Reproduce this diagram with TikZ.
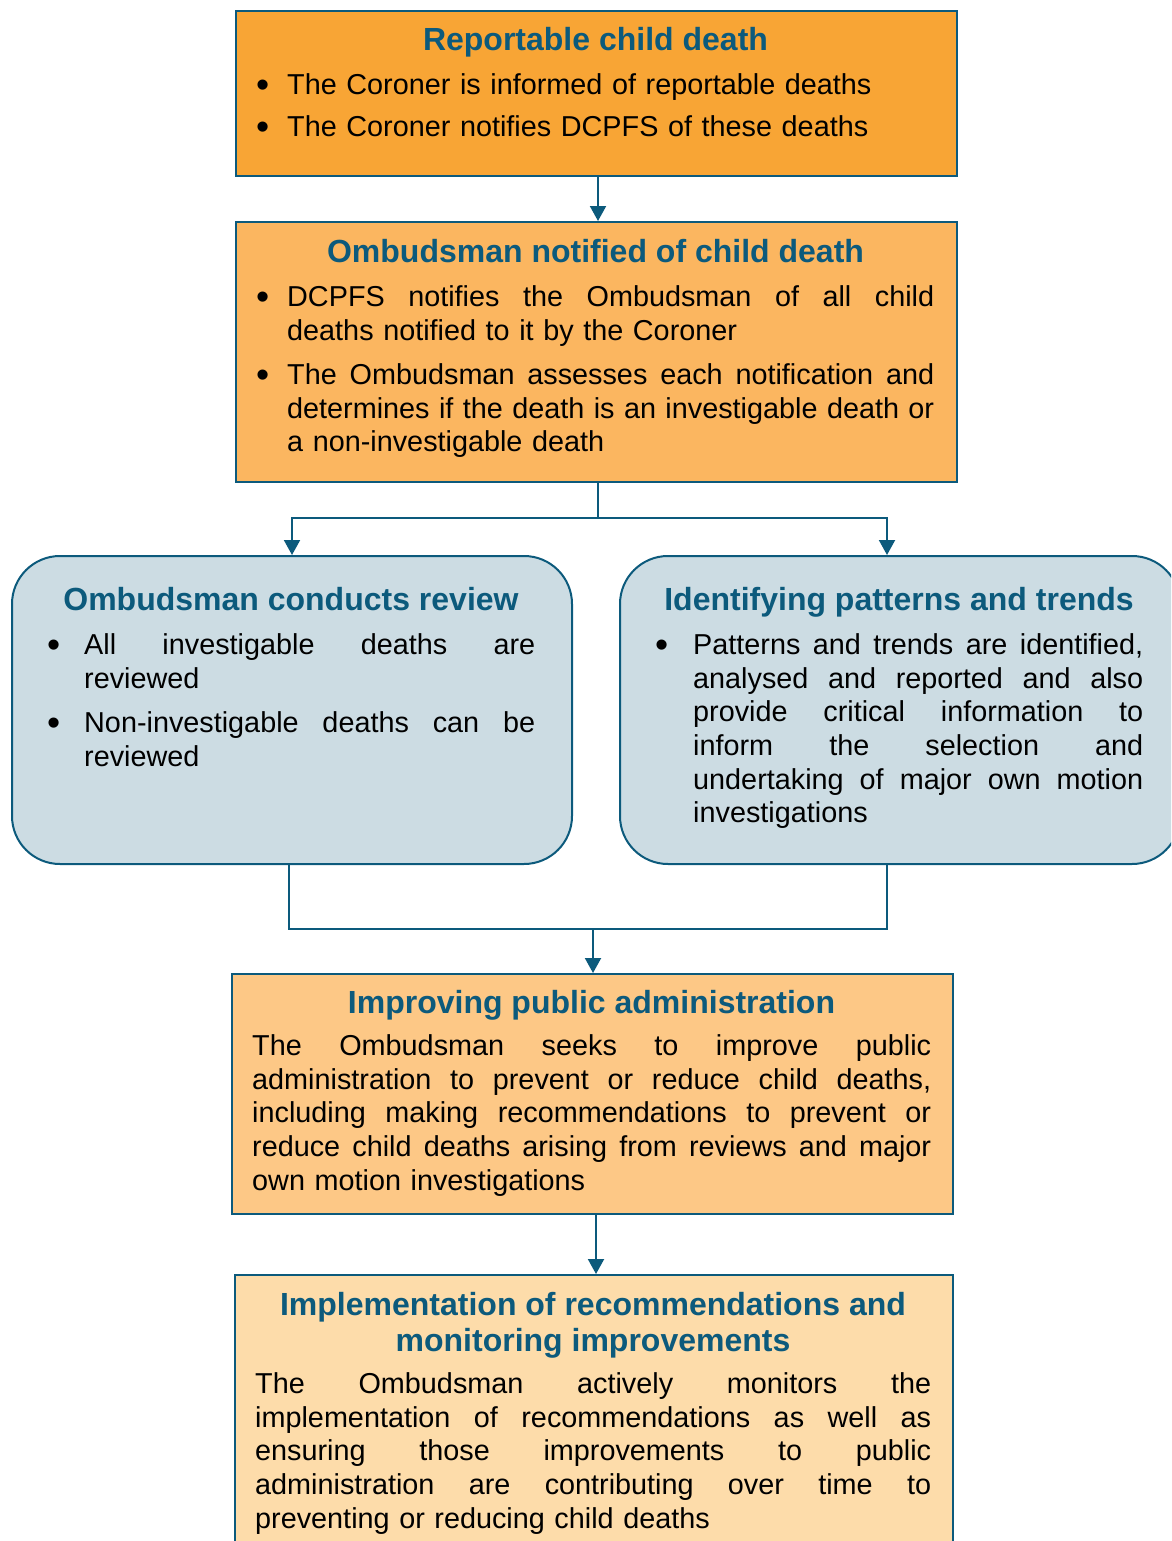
\documentclass[tikz,border=0pt]{standalone}
\usepackage{fontspec}
\usepackage{graphicx}
\setmainfont{Liberation Sans}
\usetikzlibrary{arrows.meta,calc}
\definecolor{dblue}{HTML}{0C5A7C}
\definecolor{orA}{HTML}{F8A535}
\definecolor{orB}{HTML}{FBB660}
\definecolor{ltblue}{HTML}{CCDCE3}
\definecolor{orC}{HTML}{FDC886}
\definecolor{orD}{HTML}{FDDCAA}
\newcommand{\bodyfont}{\fontsize{28.8}{33.6}\selectfont}
\newcommand{\titlefont}{\fontsize{32}{36}\selectfont\bfseries\color{dblue}}
\newcommand{\bul}[1]{\makebox[#1][l]{\hspace*{-1pt}\raisebox{-0.1em}{\scalebox{1.3}{\textbullet}}}}
\newcommand{\jline}[2]{\hbox to #1{\spaceskip=\fontdimen2\font plus 1fil minus 0.3\fontdimen2\font\relax #2}}
\hbadness=100000
\hfuzz=20pt
\tikzset{
  x=1pt, y=-1pt,
  boxrect/.style={draw=dblue, line width=2pt, anchor=north west, inner sep=0pt},
  boxround/.style={boxrect, rounded corners=48pt, fill=ltblue},
  titletext/.style={anchor=north, inner sep=0pt, font=\titlefont, align=center},
  bodytext/.style={anchor=north west, inner sep=0pt, font=\bodyfont},
  conn/.style={draw=dblue, line width=2pt},
  arr/.style={conn, -{Triangle[width=16pt,length=15pt]}}
}
\begin{document}
\begin{tikzpicture}
\useasboundingbox (0,0) rectangle (1171,1541);
\begin{scope}
\clip (0,0) rectangle (1171,1541);
% boxes
\node[boxrect, fill=orA, minimum width=721pt, minimum height=165pt] (b1) at (235,10) {};
\node[boxrect, fill=orB, minimum width=721pt, minimum height=260pt] (b2) at (235,221) {};
\node[boxround, minimum width=560pt, minimum height=308pt] (b3) at (11,555) {};
\node[boxround, minimum width=560pt, minimum height=308pt] (b4) at (619,555) {};
\node[boxrect, fill=orC, minimum width=721pt, minimum height=240pt] (b5) at (231,973) {};
\node[boxrect, fill=orD, minimum width=718pt, minimum height=320pt] (b6) at (234,1274) {};

% titles
\node[titletext] (t1) at (595.5,24.8) {\strut Reportable child death};
\node[titletext] (t2) at (595.5,236.8) {\strut Ombudsman notified of child death};
\node[titletext] (t3) at (291,584.8) {\strut Ombudsman conducts review};
\node[titletext] (t4) at (899,584.8) {\strut Identifying patterns and trends};
\node[titletext] (t5) at (591.5,987.8) {\strut Improving public administration};
\node[titletext] (t6) at (593,1289.8) {\strut Implementation of recommendations and\\monitoring improvements};

% bodies
\node[bodytext, text width=677pt] (x1) at (257,70.5) {%
\noindent\strut\bul{30pt}The Coroner is informed of reportable deaths\par
\vspace{9pt}%
\noindent\bul{30pt}The Coroner notifies DCPFS of these deaths\par};

\node[bodytext, text width=677pt] (x2) at (257,283) {%
\noindent\strut\bul{30pt}\jline{647pt}{DCPFS notifies the Ombudsman of all child}\par
\noindent\hspace*{30pt}deaths notified to it by the Coroner\par
\vspace{10.5pt}%
\noindent\bul{30pt}\jline{647pt}{The Ombudsman assesses each notification and}\par
\noindent\hspace*{30pt}\jline{647pt}{determines if the death is an investigable death or}\par
\noindent\hspace*{30pt}a non-investigable death\par};

\node[bodytext, text width=487pt] (x3) at (48,631) {%
\noindent\strut\bul{36pt}\jline{451pt}{All investigable deaths are}\par
\noindent\hspace*{36pt}reviewed\par
\vspace{10.5pt}%
\noindent\bul{36pt}\jline{451pt}{Non-investigable deaths can be}\par
\noindent\hspace*{36pt}reviewed\par};

\node[bodytext, text width=487pt] (x4) at (656,631) {%
\noindent\strut\bul{37pt}\jline{450pt}{Patterns and trends are identified,}\par
\noindent\hspace*{37pt}\jline{450pt}{analysed and reported and also}\par
\noindent\hspace*{37pt}\jline{450pt}{provide critical information to}\par
\noindent\hspace*{37pt}\jline{450pt}{inform the selection and}\par
\noindent\hspace*{37pt}\jline{450pt}{undertaking of major own motion}\par
\noindent\hspace*{37pt}investigations\par};

\node[bodytext, text width=679pt] (x5) at (252,1032) {%
\noindent\strut\jline{679pt}{The Ombudsman seeks to improve public}\par
\noindent\jline{679pt}{administration to prevent or reduce child deaths,}\par
\noindent\jline{679pt}{including making recommendations to prevent or}\par
\noindent\jline{679pt}{reduce child deaths arising from reviews and major}\par
\noindent own motion investigations\par};

\node[bodytext, text width=676pt] (x6) at (255,1370) {%
\noindent\strut\jline{676pt}{The Ombudsman actively monitors the}\par
\noindent\jline{676pt}{implementation of recommendations as well as}\par
\noindent\jline{676pt}{ensuring those improvements to public}\par
\noindent\jline{676pt}{administration are contributing over time to}\par
\noindent preventing or reducing child deaths\par};

% connectors
\draw[arr] ([xshift=1.5pt]b1.south) -- ([xshift=1.5pt]b1.south |- b2.north);
\coordinate (j1) at ($(b2.south)+(1.5,35)$);
\coordinate (n4) at ([xshift=-13pt]b4.north);
\draw[arr] ([xshift=1.5pt]b2.south) -- (j1) -| (b3.north);
\draw[arr] (j1) -| (n4);
\coordinate (l3) at ([xshift=-3pt]b3.south);
\coordinate (r4) at ([xshift=-13pt]b4.south);
\coordinate (m) at ($(b5.north)+(0.5,-44)$);
\draw[conn] (l3) |- (m) -| (r4);
\draw[arr] (m) -- (m |- b5.north);
\draw[arr] ([xshift=3.5pt]b5.south) -- ([xshift=3.5pt]b5.south |- b6.north);
\end{scope}
\end{tikzpicture}
\end{document}
